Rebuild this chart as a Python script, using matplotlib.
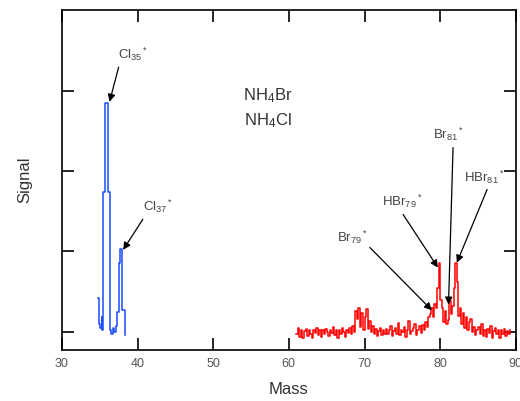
import numpy as np
import matplotlib
matplotlib.use("Agg")
import matplotlib.pyplot as plt

plt.rcParams['font.family'] = ['Liberation Sans', 'DejaVu Sans']
plt.rcParams['mathtext.fontset'] = 'custom'
plt.rcParams['mathtext.rm'] = 'Liberation Sans'
plt.rcParams['mathtext.it'] = 'Liberation Sans'

# NH4Cl trace (blue), mass vs signal
cl_mass = [34.8, 34.9, 35.0, 35.25, 35.35, 35.5, 35.7, 36.1, 36.3, 36.5, 36.7,
           36.9, 37.1, 37.3, 37.5, 37.7, 38.0, 38.3]
cl_signal = [0.42, 0.10, 0.05, 0.18, 0.02, 1.74, 2.84, 1.74, 0.02, -0.03, 0.05,
             0.00, 0.08, 0.25, 0.86, 1.03, 0.27, -0.04]

# NH4Br trace (red), sampled every 0.2 amu from 61.0
br_start = 61.0
br_step = 0.2
br_signal = [
    -0.02, 0.05, -0.06, 0.02, -0.08, 0.01, 0.04, -0.05, 0.02, -0.02,
    -0.07, 0.03, -0.01, 0.05, -0.04, 0.02, -0.06, 0.03, -0.02, 0.04,
    0.00, -0.05, 0.03, -0.01, 0.06, -0.04, 0.02, -0.08, 0.03, -0.02,
    0.05, 0.00, -0.06, 0.03, -0.01, 0.05, -0.03, 0.07, 0.00, 0.26,
    0.16, 0.30, 0.06, 0.24, 0.02, 0.18, 0.28, 0.04, 0.14, 0.00,
    0.08, -0.03, 0.04, -0.05, 0.01, 0.05, -0.04, 0.02, -0.02, 0.04,
    -0.03, 0.03, 0.08, -0.05, 0.01, 0.05, -0.02, 0.11, -0.04, 0.02,
    0.00, 0.06, -0.06, 0.03, 0.14, -0.02, 0.01, 0.05, 0.10, -0.04,
    0.02, 0.07, -0.01, 0.09, 0.03, 0.12, 0.06, 0.18, 0.22, 0.30,
    0.18, 0.35, 0.30, 0.55, 0.86, 0.40, 0.30, 0.12, 0.26, 0.10,
    0.15, 0.38, 0.22, 0.32, 0.55, 0.86, 0.62, 0.20, 0.30, 0.10,
    0.24, 0.05, 0.18, 0.02, 0.12, 0.16, 0.00, 0.06, -0.04, 0.03,
    0.06, -0.03, 0.10, -0.05, 0.02, -0.06, 0.04, -0.01, 0.07, -0.08,
    0.01, 0.05, -0.03, 0.03, -0.07, 0.02, -0.02, 0.04, -0.05, 0.01,
    -0.03, 0.03,
]
br_mass = br_start + br_step * np.arange(len(br_signal))

# peak labels: text, label position, arrow tail, arrow tip
labels = [r'Cl$_{35}$$^*$', r'Cl$_{37}$$^*$', r'HBr$_{79}$$^*$', r'Br$_{79}$$^*$',
          r'Br$_{81}$$^*$', r'HBr$_{81}$$^*$']
label_xy = [(39.4, 3.45), (42.7, 1.56), (75.0, 1.62), (68.4, 1.18), (81.1, 2.46), (85.8, 1.92)]
tail_xy = [(37.5, 3.29), (40.7, 1.40), (75.1, 1.46), (70.7, 1.05), (81.7, 2.29), (86.2, 1.77)]
tip_xy = [(36.3, 2.86), (38.1, 1.02), (79.7, 0.80), (78.9, 0.27), (81.1, 0.34), (82.2, 0.86)]

fig = plt.figure(figsize=(5.2, 4.01), dpi=100)
ax = fig.add_axes([0.119, 0.127, 0.873, 0.848])

ax.plot(cl_mass, cl_signal, color='#1a4cff', lw=1.1, drawstyle='steps-post')
ax.plot(br_mass, br_signal, color='#ff0000', lw=1.1, drawstyle='steps-post')

for txt, lxy, txy, pxy in zip(labels, label_xy, tail_xy, tip_xy):
    ax.text(lxy[0], lxy[1], txt, fontsize=9.5, color='#444444', ha='center', va='center',
            clip_on=False, zorder=5)
    ax.annotate('', xy=pxy, xytext=txy,
                arrowprops=dict(arrowstyle='-|>', color='k', lw=0.9, mutation_scale=11,
                                shrinkA=0, shrinkB=0))

ax.text(57.2, 2.93, r'NH$_4$Br', fontsize=12, color='#333333', ha='center', va='center')
ax.text(57.2, 2.62, r'NH$_4$Cl', fontsize=12, color='#333333', ha='center', va='center')

ax.set_xlim(30, 90)
ax.set_ylim(-0.225, 4.0)
ax.set_xticks([30, 40, 50, 60, 70, 80, 90])
ax.set_yticks([0, 1, 2, 3])
ax.set_yticklabels([])
ax.tick_params(direction='in', length=8.5, width=1.2, top=True, right=True,
               labelsize=9, labelcolor='#555555', pad=6)
for s in ax.spines.values():
    s.set_linewidth(1.2)

ax.set_xlabel('Mass', fontsize=12, color='#333333', labelpad=8)
ax.set_ylabel('Signal', fontsize=12, color='#333333', labelpad=15)

fig.savefig('out.png', dpi=100)
